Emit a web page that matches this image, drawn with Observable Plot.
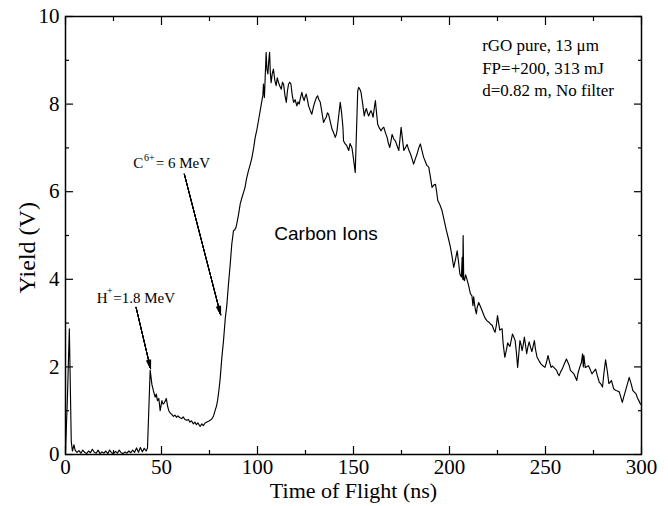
<!DOCTYPE html>
<html><head><meta charset="utf-8">
<script src="https://cdn.jsdelivr.net/npm/d3@7"></script>
<script src="https://cdn.jsdelivr.net/npm/@observablehq/plot@0.6"></script>
<style>body{margin:0;background:#fff}</style>
</head><body><div id="chart"></div>
<script>
// Time of flight (ns)
const time = [0,1,2,3,3.6,4.4,5,6,7,8,9,10,11,12,13,14,15,16,17,18,19,20,21,22,23,24,25,26,27,28,29,30,31,32,33,34,35,36,37,38,39,40,41,42,42.7,
44.1,45,45.8,46.7,47.3,47.9,48.6,49.3,50.2,50.8,51.5,52.5,53.2,53.8,54.5,55.2,56.2,57,57.8,58.5,59.7,60.5,61.3,62.2,63.2,64,64.8,65.6,66.6,67.4,68.2,69,70.1,71,71.8,72.7,73.6,74.5,75.3,76.2,77.1,77.9,78.6,79.2,80,80.6,81.4,82.3,83.2,84,84.9,85.8,86.6,87.5,88.2,88.9,90,91,91.8,92.7,93.5,94.3,95.3,96.2,97.1,98,98.8,99.7,100.5,101.4,102.3,102.8,103.1,103.6,104,104.5,104.9,105.4,105.9,106.3,106.7,107.1,107.7,108.3,109,109.7,110.3,110.9,111.7,112.4,113,113.6,114.3,115,115.6,116.2,116.8,117.4,118.1,118.8,119.6,120.5,121.1,121.7,122.4,123.1,123.7,124.3,124.9,125.4,126,126.6,127.5,128.3,129.2,130.1,130.7,131.3,132,132.7,133.6,134.4,135.1,135.8,136.4,137,137.9,138.8,139.6,140.5,141,141.4,142.2,143.1,143.8,144.5,144.8,145.7,146.5,147.5,148.2,149.2,150,150.9,151.5,152.2,152.7,153.2,153.9,154.8,155.6,156.2,156.7,157.3,157.9,158.5,159.1,159.6,160.2,160.8,161.4,162,162.6,163.5,164.4,165.1,165.8,166.6,167.5,168.2,168.9,169.5,170.1,171,171.8,172.7,173.6,174.2,174.8,175.5,176.2,177,177.9,178.8,179.7,180.5,181.3,182.2,183.1,184,184.8,185.6,186.5,187.3,188.2,189.2,190,190.9,191.8,192.7,193.3,193.9,195,196.1,197.2,198.4,199.5,200.5,201.4,202.2,203.1,204,204.7,205.4,206.2,206.6,206.9,207.1,207.4,207.8,208.4,209.1,210,210.9,211.7,212.2,212.6,213,213.5,214,214.4,215.2,216.1,217,217.9,218.7,219.6,220.5,221.3,222.2,223.1,223.7,224.4,225,225.6,226.2,226.8,227.4,227.9,228.8,229.7,230.3,230.9,231.5,232.1,232.8,233.5,234.2,234.9,235.5,236.1,236.7,237.3,237.8,238.4,239,239.6,240.2,240.8,241.5,242.2,242.9,243.6,244.2,244.8,245.6,246.5,247.6,248.8,249.7,250.5,251.3,252.2,252.9,253.5,254.3,255.2,255.8,256.4,257.1,257.8,258.7,259.6,260.9,262.2,263,263.9,264.8,265.7,266.3,266.9,267.8,268.7,269.3,269.7,270,270.4,270.7,271.4,272.3,273.2,274.2,275.2,276.1,277,278,279,279.7,280.4,281.3,282.2,283,283.7,284.3,284.9,285.5,286.1,286.8,287.5,288.4,289.3,290,290.8,291.7,292.6,293.6,294.7,295.5,296.4,297.1,297.8,298.6,299.5,300];
// Yield (V)
const yieldV = [0.05,1.3,2.87,0.3,0.08,0.22,0.1,0.05,0.09,0.03,0.1,0.05,0.02,0.08,0.04,0.12,0.05,0.03,0.1,0.02,0.06,0.03,0.08,0.02,0.1,0.04,0.02,0.07,0.03,0.1,0.04,0.02,0.06,0.03,0.08,0.04,0.1,0.05,0.15,0.05,0.16,0.06,0.14,0.08,0.15,
1.93,1.6,1.45,1.31,1.38,1.23,1.28,1.0,1.23,1.15,1.18,1.28,1.1,1.0,0.95,0.92,0.87,0.9,0.85,0.88,0.84,0.82,0.86,0.8,0.78,0.8,0.74,0.77,0.7,0.74,0.68,0.72,0.64,0.7,0.66,0.72,0.74,0.76,0.78,0.81,0.88,1.0,1.1,1.23,1.5,1.75,2.2,2.6,3.1,3.4,3.9,4.35,4.8,5.11,5.13,5.2,5.45,5.72,5.85,5.98,6.1,6.3,6.48,6.62,6.78,7.0,7.24,7.42,7.62,7.85,8.08,8.2,8.46,8.15,8.6,9.18,8.8,8.69,9.0,9.18,8.7,8.49,8.7,8.8,8.55,8.42,8.6,8.5,8.4,8.34,8.5,8.45,8.2,8.04,8.3,8.46,8.5,8.46,8.2,8.04,8.1,7.96,8.05,8.0,8.15,8.27,8.15,8.08,8.18,8.23,8.1,7.96,7.85,7.77,7.95,8.08,8.15,8.19,8.1,8.04,7.8,7.58,7.65,7.7,7.8,7.77,7.6,7.43,7.35,7.24,7.3,7.39,7.7,8.04,7.8,7.47,7.16,7.09,7.05,6.94,7.1,7.0,6.75,6.44,7.3,8.3,8.38,8.35,8.27,8.0,7.73,7.85,7.9,7.8,7.73,7.8,7.85,7.8,7.7,7.9,8.08,7.8,7.54,7.45,7.39,7.45,7.47,7.35,7.24,7.1,7.01,7.15,7.31,7.2,7.16,7.05,6.94,7.2,7.47,7.2,6.94,7.0,7.08,6.95,6.86,6.75,6.63,6.75,6.86,7.0,7.09,6.95,6.79,6.7,6.6,6.56,6.35,6.1,6.15,6.17,6.0,5.8,5.7,5.57,5.35,5.11,4.92,4.73,4.5,4.27,4.45,4.65,4.4,4.12,4.05,4.5,4.0,5.0,4.0,3.97,4.1,4.0,3.85,3.67,3.62,3.4,3.6,3.45,3.3,3.21,3.35,3.47,3.38,3.28,3.18,3.1,3.05,3.02,2.98,2.95,2.85,2.79,2.95,3.17,3.0,2.84,2.86,2.87,2.55,2.22,2.4,2.55,2.5,2.47,2.6,2.75,2.68,2.6,2.3,1.99,2.3,2.6,2.5,2.37,2.5,2.68,2.5,2.3,2.45,2.57,2.45,2.35,2.48,2.6,2.4,2.22,2.15,2.07,2.02,1.99,2.1,2.26,2.1,1.99,2.02,1.99,1.95,1.92,1.85,1.8,1.88,1.95,2.05,2.18,2.05,1.92,1.88,1.84,1.75,1.69,1.85,1.99,2.1,2.3,2.0,2.26,2.1,1.99,2.0,2.03,1.95,1.84,1.9,1.95,1.8,1.65,1.6,1.54,1.85,2.16,1.9,1.62,1.65,1.69,1.6,1.5,1.48,1.46,1.45,1.43,1.3,1.19,1.32,1.46,1.6,1.76,1.6,1.46,1.42,1.39,1.3,1.23,1.15];

const xTicks = [0, 50, 100, 150, 200, 250, 300];
const xMinor = [25, 75, 125, 175, 225, 275];
const yTicks = [0, 2, 4, 6, 8, 10];
const yMinor = [1, 3, 5, 7, 9];

const infoLines = ["rGO pure, 13 \u03bcm", "FP=+200, 313 mJ", "d=0.82 m, No filter"];
const infoX = [217, 217, 217];
const infoY = [9.33, 8.82, 8.31];

const annoText = ["C", "6+", "= 6 MeV", "H", "+", "=1.8 MeV"];
const annoX = [35.35, 40.9, 47.0, 16.27, 21.6, 24.9];
const annoY = [6.54, 6.71, 6.54, 3.47, 3.66, 3.47];
const annoSize = [15, 10, 15, 15, 10, 15];

const arrowX1 = [61.9, 36.75];
const arrowY1 = [6.40, 3.36];
const arrowX2 = [80.8, 44.3];
const arrowY2 = [3.19, 1.96];

const speciesLabel = ["Carbon Ions"];
const speciesX = [135.7];
const speciesY = [5.03];

const xTitle = "Time of Flight (ns)";
const yTitle = "Yield (V)";

const data = time.map((t, i) => ({t, v: yieldV[i]}));
const serif = "'Liberation Serif','Times New Roman',serif";
const arrowIdx = arrowX1.map((_, i) => i);
const headAngles = [28, 20, 13, 7, 2];

const plot = Plot.plot({
  width: 668,
  height: 506,
  marginLeft: 65,
  marginRight: 27,
  marginTop: 16,
  marginBottom: 52,
  x: {domain: [0, 300]},
  y: {domain: [0, 10]},
  style: {fontFamily: serif, background: "white", color: "black", overflow: "visible"},
  marks: [
    Plot.line(data, {x: "t", y: "v", stroke: "black", strokeWidth: 1.15}),
    // inward ticks on all four sides
    Plot.axisX(xTicks, {anchor: "bottom", tickSize: 8, dy: -8, text: null, label: null, strokeWidth: 1.2}),
    Plot.axisX(xMinor, {anchor: "bottom", tickSize: 4, dy: -4, text: null, label: null, strokeWidth: 1.2}),
    Plot.axisX(xTicks, {anchor: "top", tickSize: 8, dy: 8, text: null, label: null, strokeWidth: 1.2}),
    Plot.axisX(xMinor, {anchor: "top", tickSize: 4, dy: 4, text: null, label: null, strokeWidth: 1.2}),
    Plot.axisY(yTicks, {anchor: "left", tickSize: 8, dx: 8, text: null, label: null, strokeWidth: 1.2}),
    Plot.axisY(yMinor, {anchor: "left", tickSize: 4, dx: 4, text: null, label: null, strokeWidth: 1.2}),
    Plot.axisY(yTicks, {anchor: "right", tickSize: 8, dx: -8, text: null, label: null, strokeWidth: 1.2}),
    Plot.axisY(yMinor, {anchor: "right", tickSize: 4, dx: -4, text: null, label: null, strokeWidth: 1.2}),
    // tick labels
    Plot.axisX(xTicks, {anchor: "bottom", tickSize: 0, tickPadding: 5, fontSize: 21, label: null}),
    Plot.axisY(yTicks, {anchor: "left", tickSize: 0, tickPadding: 6, fontSize: 21, label: null}),
    Plot.frame({stroke: "black", strokeWidth: 1.5}),
    // axis titles
    Plot.text([xTitle], {x: [150], frameAnchor: "bottom", dy: 36, text: d => d, fontSize: 22, textAnchor: "middle", lineAnchor: "middle"}),
    Plot.text([yTitle], {y: [4.72], frameAnchor: "left", dx: -38, rotate: -90, text: d => d, fontSize: 24, textAnchor: "middle", lineAnchor: "middle"}),
    // info block
    Plot.text(infoLines, {x: infoX, y: infoY, text: d => d, fontSize: 17, textAnchor: "start", lineAnchor: "middle"}),
    // species annotation
    Plot.text(speciesLabel, {x: speciesX, y: speciesY, text: d => d, fontSize: 19, fontFamily: "'Liberation Sans',Arial,sans-serif", textAnchor: "middle", lineAnchor: "middle"}),
    // peak annotations
    Plot.text(annoText, {x: annoX, y: annoY, text: d => d, fontSize: annoSize, textAnchor: "start", lineAnchor: "bottom"}),
    ...headAngles.map(a => Plot.arrow(arrowIdx, {
      x1: i => arrowX1[i], y1: i => arrowY1[i], x2: i => arrowX2[i], y2: i => arrowY2[i],
      stroke: "black", strokeWidth: 1, headLength: 13, headAngle: a
    }))
  ]
});
document.getElementById("chart").appendChild(plot);
</script>
</body></html>
